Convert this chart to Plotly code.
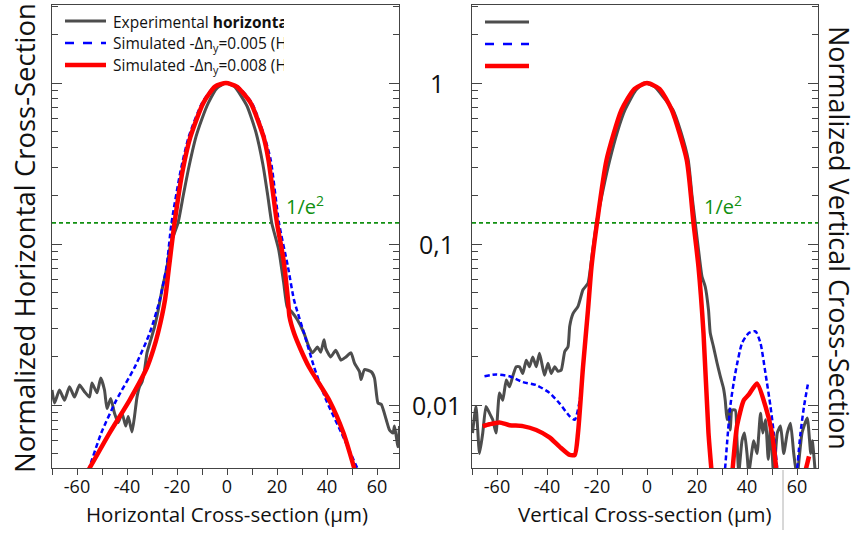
import math
import plotly.graph_objects as go

# ---------------- data ----------------
# Horizontal cross-section (left panel)
h_exp_x = [-70, -69, -67, -65, -63, -61, -59, -57, -55, -54, -52, -50.5, -49, -48, -46.5, -45,
           -43.5, -42, -40.5, -39.5, -38, -37, -36, -35, -34, -33, -32, -30.5, -29, -27.5, -26,
           -24, -22.5, -19.6, -17.5, -15.5, -12.4, -10, -7.5, -4, -0.5, 3, 8, 11.5, 14.4, 16.3,
           17.9, 20.7, 22.7, 24.1, 26.1, 28.1, 30.8, 32.8, 34.2, 36.2, 37.5, 38.8, 39.5, 41.5,
           43.5, 45.6, 47.6, 49.6, 51, 53, 53.6, 55, 57.7, 59, 60.4, 61.7, 63.7, 65, 66.4, 67,
           68.4, 69]
h_exp_y = [0.0124, 0.0103, 0.0124, 0.0107, 0.0130, 0.0112, 0.0133, 0.0121, 0.0112, 0.0137,
           0.0119, 0.0147, 0.0124, 0.0095, 0.0110, 0.0089, 0.0078, 0.0089, 0.0074, 0.0085,
           0.0068, 0.0085, 0.0112, 0.0130, 0.0139, 0.0164, 0.0211, 0.0254, 0.0305, 0.039,
           0.052, 0.072, 0.101, 0.135, 0.20, 0.288, 0.464, 0.60, 0.75, 0.93, 1.0, 0.95, 0.72,
           0.50, 0.31, 0.20, 0.135, 0.092, 0.057, 0.0406, 0.0376, 0.034, 0.028, 0.0229, 0.0211,
           0.0229, 0.0213, 0.0254, 0.0225, 0.0199, 0.0219, 0.0190, 0.0199, 0.0211, 0.0182,
           0.0161, 0.0144, 0.0166, 0.0161, 0.0147, 0.0103, 0.0101, 0.0081, 0.0070, 0.0067,
           0.0074, 0.0055, 0.0074]

h_sim5_x = [-55.5, -50.3, -44.3, -36.9, -30.9, -26.9, -24.2, -22.2, -18.5, -15.3, -10, -5, 0,
            4.3, 10, 15, 17.5, 20.8, 24.4, 26.8, 30.8, 34.9, 39.7, 45.8, 52.6]
h_sim5_y = [0.0039, 0.0067, 0.0107, 0.0172, 0.028, 0.045, 0.072, 0.135, 0.288, 0.464, 0.75,
            0.95, 1.0, 0.95, 0.75, 0.464, 0.332, 0.135, 0.072, 0.045, 0.028, 0.0171, 0.0107,
            0.0067, 0.0039]

h_sim8_x = [-55.6, -47, -39, -32, -29.5, -27.6, -24.8, -23.2, -21, -17.7, -14.6, -9.5, -4.8,
            -0.4, 3.9, 9.5, 14.6, 16.6, 20, 22.6, 24.4, 25, 26.8, 29.6, 32.9, 40.9, 46.6, 51.2]
h_sim8_y = [0.0039, 0.0067, 0.0107, 0.0171, 0.022, 0.028, 0.045, 0.072, 0.135, 0.288, 0.464,
            0.75, 0.95, 1.0, 0.95, 0.75, 0.464, 0.332, 0.135, 0.080, 0.045, 0.0354, 0.028,
            0.0219, 0.0171, 0.0107, 0.0067, 0.0039]

# Vertical cross-section (right panel)
v_exp_x = [-69.8, -68.4, -67, -65.7, -64.4, -63, -61.7, -60.4, -59, -57.7, -56.3, -55, -53.7,
           -52.3, -51, -49.7, -48.3, -47, -45.7, -44.3, -43, -41, -39.6, -38.3, -36.9, -35.6,
           -34.3, -32.9, -31.6, -30.9, -29.6, -27.6, -25.6, -23.6, -22.2, -20.2, -17.5, -14.9,
           -11.8, -8.8, -4.5, -1, 3, 7, 10.4, 13.5, 16.5, 18, 19.3, 20.6, 22, 23.3, 24.6, 25.3,
           26.6, 28, 29.3, 30.6, 31.3, 32, 32.7, 33.3, 34, 35.3, 36, 36.7, 38, 39, 40, 40.7,
           42.7, 44, 45.4, 46.3, 47.4, 48.5, 49.4, 50.7, 52.1, 53.4, 54.7, 56.1, 57.4, 58.7,
           60, 62, 64.1, 65.5, 66.1, 67.5]
v_exp_y = [0.0067, 0.0098, 0.0050, 0.0067, 0.0098, 0.0089, 0.0081, 0.0067, 0.0119, 0.0107,
           0.0143, 0.0130, 0.0151, 0.0173, 0.0173, 0.0157, 0.0190, 0.0173, 0.0199, 0.0173,
           0.0210, 0.0153, 0.0182, 0.0157, 0.0173, 0.0162, 0.0165, 0.0215, 0.0230, 0.031,
           0.037, 0.041, 0.052, 0.057, 0.080, 0.135, 0.22, 0.332, 0.50, 0.68, 0.90, 1.0, 0.95,
           0.80, 0.68, 0.50, 0.332, 0.20, 0.135, 0.092, 0.0627, 0.0543, 0.039, 0.028, 0.023,
           0.0183, 0.0151, 0.0127, 0.0107, 0.0081, 0.0093, 0.0070, 0.0093, 0.0093, 0.0060,
           0.0038, 0.0060, 0.0067, 0.0050, 0.0038, 0.0060, 0.0050, 0.0089, 0.0067, 0.0081,
           0.0046, 0.0074, 0.0036, 0.0067, 0.0074, 0.0050, 0.0067, 0.0077, 0.0050, 0.0036,
           0.0067, 0.0083, 0.0050, 0.0060, 0.0035]

# None marks the nodes where the simulated intensity vanishes
v_sim5_x = [-65, -60.4, -55, -49.7, -44.3, -39, -34.9, -30.9, -28.9, -26.9, -24.9, -23.6,
            -22.2, -20, -16.2, -10.2, -5, 0, 5, 9.9, 15.9, 18.6, 20.6, 22.6, 24.6, 25.9, None,
            31.0, 33.3, 35.3, 38, 40.7, 43.4, 45.4, 47.4, 49.4, 50.7, 52.4, None,
            59.8, 61.4, 62.8, 64.5]
v_sim5_y = [0.0151, 0.0155, 0.0151, 0.0139, 0.0133, 0.0119, 0.0102, 0.0085, 0.0081, 0.0107,
            0.022, 0.039, 0.0723, 0.135, 0.332, 0.68, 0.92, 1.0, 0.92, 0.68, 0.332, 0.135,
            0.072, 0.028, 0.0067, 0.0036, None,
            0.0036, 0.0098, 0.0157, 0.0242, 0.028, 0.0287, 0.0242, 0.0157, 0.0098, 0.0067,
            0.0036, None,
            0.0036, 0.0067, 0.0098, 0.0139]

v_sim8_x = [-65.7, -63, -59, -55, -49.7, -44.3, -39, -34.9, -30.9, -28.9, -27.6, -25.6, -23.6,
            -22.2, -20, -16.2, -10.2, -5, 0, 5, 9.9, 15.9, 18.6, 20.6, 22.6, 24.6, 26.0, None,
            34.0, 36.0, 38.7, 40.7, 44, 47.4, 50, 52.0, None,
            63.2, 64.8]
v_sim8_y = [0.0074, 0.0076, 0.0078, 0.0075, 0.0074, 0.0070, 0.0063, 0.0055, 0.0049, 0.0049,
            0.0067, 0.0172, 0.039, 0.0723, 0.135, 0.332, 0.68, 0.92, 1.0, 0.92, 0.68, 0.332,
            0.135, 0.072, 0.028, 0.0067, 0.0036, None,
            0.0036, 0.0074, 0.0107, 0.0116, 0.0136, 0.0098, 0.0067, 0.0036, None,
            0.0038, 0.0048]

x_ticks = [-60, -40, -20, 0, 20, 40, 60]
x_tick_text = ["-60", "-40", "-20", "0", "20", "40", "60"]
x_minor = [-70, -50, -30, -10, 10, 30, 50]
y_major = [0.01, 0.1, 1]
y_major_text = ["0,01", "0,1", "1"]
y_minor = [m * 10 ** k for k in (-3, -2, -1, 0) for m in range(2, 10)]
level_e2 = math.exp(-2)  # 1/e^2 intensity level

# ---------------- styling ----------------
W, H = 860, 534
FONT = "Open Sans"
GRAY, BLUE, RED, GREEN = "#4d4d4d", "#0000ff", "#ff0000", "#119011"
FRAME = "#444444"
X_RANGE_H = [-70, 68.8]
X_RANGE_V = [-70, 68.4]
Y_RANGE = [-2.391, 0.4845]


def px(x):
    return x / W


def py(y):
    return 1 - y / H


fig = go.Figure()

panels = [("x", "y", X_RANGE_H, h_exp_x, h_exp_y, h_sim5_x, h_sim5_y, h_sim8_x, h_sim8_y),
          ("x2", "y2", X_RANGE_V, v_exp_x, v_exp_y, v_sim5_x, v_sim5_y, v_sim8_x, v_sim8_y)]
for xa, ya, xr, ex, ey, s5x, s5y, s8x, s8y in panels:
    fig.add_trace(go.Scatter(x=xr, y=[level_e2, level_e2], mode="lines", xaxis=xa, yaxis=ya,
                             line=dict(color=GREEN, width=1.8, dash="4px,3px"), showlegend=False))
    fig.add_trace(go.Scatter(x=ex, y=ey, mode="lines", xaxis=xa, yaxis=ya,
                             line=dict(color=GRAY, width=3, shape="spline", smoothing=0.5),
                             showlegend=False))
    fig.add_trace(go.Scatter(x=s5x, y=s5y, mode="lines", xaxis=xa, yaxis=ya, connectgaps=False,
                             line=dict(color=BLUE, width=2.5, dash="5px,3px", shape="spline",
                                       smoothing=0.6), showlegend=False))
    fig.add_trace(go.Scatter(x=s8x, y=s8y, mode="lines", xaxis=xa, yaxis=ya, connectgaps=False,
                             line=dict(color=RED, width=4.5, shape="spline", smoothing=0.6),
                             showlegend=False))

x_common = dict(tickvals=x_ticks, ticktext=x_tick_text, ticks="outside",
                ticklen=6, tickwidth=1.2, tickcolor=FRAME, ticklabelstandoff=-4,
                minor=dict(tickvals=x_minor, ticks="outside", ticklen=6, tickwidth=1.2,
                           tickcolor=FRAME),
                showline=True, linecolor=FRAME, linewidth=1.2, mirror=True, showgrid=False,
                zeroline=False, tickfont=dict(family=FONT, size=18, color="#111"))
y_dom = [py(468), py(5)]
y_common = dict(type="log", range=Y_RANGE, domain=y_dom, tickvals=y_major, ticks="inside",
                ticklen=10, tickwidth=1.2, tickcolor=FRAME, showticklabels=False,
                minor=dict(tickvals=y_minor, ticks="inside", ticklen=6, tickwidth=1.2,
                           tickcolor=FRAME),
                showline=True, linecolor=FRAME, linewidth=1.2, mirror="allticks",
                showgrid=False, zeroline=False)
y_out = dict(type="log", range=Y_RANGE, domain=y_dom, tickvals=y_major, ticks="outside",
             tickwidth=1.2, tickcolor=FRAME, showticklabels=False, showline=False,
             showgrid=False, zeroline=False)

fig.update_layout(
    width=W, height=H, margin=dict(l=0, r=0, t=0, b=0),
    paper_bgcolor="white", plot_bgcolor="white", showlegend=False,
    font=dict(family=FONT, color="#111"),
    xaxis=dict(domain=[px(52), px(399)], anchor="y", range=X_RANGE_H, **x_common),
    yaxis=dict(anchor="x", **y_common),
    xaxis2=dict(domain=[px(472), px(818)], anchor="y2", range=X_RANGE_V, **x_common),
    yaxis2=dict(anchor="x2", **y_common),
    yaxis3=dict(overlaying="y", anchor="x", side="right", ticklen=13, **y_out),
    yaxis4=dict(overlaying="y2", anchor="x2", side="left", ticklen=12, **y_out),
    yaxis5=dict(overlaying="y2", anchor="x2", side="right", ticklen=7, **y_out),
)

# legend samples
shapes = []
legend_rows = [(21, GRAY, 3, "solid"), (43, BLUE, 2.5, "dash"), (65, RED, 4.5, "solid")]
for (yy, col, w, dash), (x0, x1, dy) in [(r, (65, 106, 0)) for r in legend_rows] + \
        [(r, (485, 529, 1)) for r in legend_rows]:
    shapes.append(dict(type="line", xref="paper", yref="paper", x0=px(x0), x1=px(x1),
                       y0=py(yy + dy), y1=py(yy + dy), line=dict(color=col, width=w, dash=dash)))
shapes.append(dict(type="line", xref="paper", yref="paper", x0=px(783), x1=px(783),
                   y0=py(470), y1=py(530), line=dict(color="#b0b0b0", width=1)))
fig.update_layout(shapes=shapes)

ann = []
legend_texts = ["Experimental <b>horizontal</b>",
                "Simulated -Δn<sub>y</sub>=0.005 (Horizontal)",
                "Simulated -Δn<sub>y</sub>=0.008 (Horizontal)"]
for (yy, *_), txt in zip(legend_rows, legend_texts):
    ann.append(dict(text=txt, xref="paper", yref="paper", x=px(111), y=py(yy + 1),
                    xanchor="left", yanchor="middle", align="left", width=171,
                    showarrow=False, font=dict(size=15.5, family=FONT, color="#111")))

for xa, ya, xl in [("x", "y", 31.3), ("x2", "y2", 30.5)]:
    ann.append(dict(text="1/e<sup>2</sup>", xref=xa, yref=ya, x=xl, y=math.log10(level_e2),
                    xanchor="center", yanchor="bottom", yshift=1, showarrow=False,
                    font=dict(size=20, family=FONT, color=GREEN)))

for v, t in zip(y_major, y_major_text):
    ann.append(dict(text=t, xref="paper", yref="y2", x=px(437), y=math.log10(v),
                    xanchor="center", yanchor="middle", showarrow=False,
                    font=dict(size=25, family=FONT, color="#111")))

ann.append(dict(text="Normalized Horizontal Cross-Section", xref="paper", yref="paper",
                x=px(24), y=py(238), textangle=-90, xanchor="center", yanchor="middle",
                showarrow=False, font=dict(size=27.5, family=FONT, color="#111")))
ann.append(dict(text="Normalized Vertical Cross-Section", xref="paper", yref="paper",
                x=px(840), y=py(238), textangle=90, xanchor="center", yanchor="middle",
                showarrow=False, font=dict(size=27, family=FONT, color="#111")))
ann.append(dict(text="Horizontal Cross-section (µm)", xref="paper", yref="paper",
                x=px(227), y=py(514), xanchor="center", yanchor="middle", showarrow=False,
                font=dict(size=20.5, family=FONT, color="#111")))
ann.append(dict(text="Vertical Cross-section (µm)", xref="paper", yref="paper",
                x=px(645), y=py(514), xanchor="center", yanchor="middle", showarrow=False,
                font=dict(size=20.5, family=FONT, color="#111")))
fig.update_layout(annotations=ann)

fig.write_html("out.html")
